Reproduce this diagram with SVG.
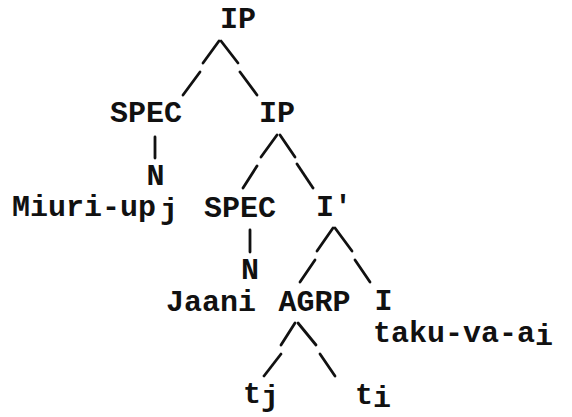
<svg xmlns="http://www.w3.org/2000/svg" width="572" height="417" viewBox="0 0 572 417">
<style>
text{font-family:"Liberation Mono","Courier New",monospace;font-size:30px;font-weight:bold;fill:#111}
.m{text-anchor:middle}
line{stroke:#111;stroke-width:2.8;stroke-linecap:round}
</style>
<rect width="572" height="417" fill="#fff"/>
<g id="connectors">
<line x1="219" y1="41" x2="203" y2="63"/><line x1="200" y1="72" x2="183" y2="95"/>
<line x1="221" y1="41" x2="238" y2="63"/><line x1="240" y1="72" x2="257" y2="95"/>
<line x1="155" y1="137" x2="155" y2="158"/>
<line x1="277" y1="135" x2="261" y2="157"/><line x1="257" y1="166" x2="243" y2="188"/>
<line x1="280" y1="135" x2="295" y2="157"/><line x1="297" y1="164" x2="313" y2="188"/>
<line x1="250" y1="230" x2="250" y2="252"/>
<line x1="333" y1="228" x2="317" y2="251"/><line x1="315" y1="260" x2="300" y2="282"/>
<line x1="335" y1="228" x2="352" y2="251"/><line x1="355" y1="260" x2="370" y2="282"/>
<line x1="295" y1="323" x2="281" y2="345"/><line x1="281" y1="354" x2="264" y2="376"/>
<line x1="298" y1="323" x2="316" y2="345"/><line x1="320" y1="354" x2="335" y2="376"/>
</g>
<g id="n-ip"><text class="m" x="238" y="28">IP</text></g>
<g id="n-spec1"><text class="m" x="146" y="122">SPEC</text></g>
<g id="n-ip2"><text class="m" x="277" y="122">IP</text></g>
<g id="n-n1"><text class="m" x="155.5" y="185">N</text></g>
<g id="n-miuri"><text x="12" y="216">Miuri-up<tspan dx="4" dy="3">j</tspan></text></g>
<g id="n-spec2"><text class="m" x="240" y="217">SPEC</text></g>
<g id="n-ibar"><text x="316" y="216">I'</text></g>
<g id="n-n2"><text class="m" x="250" y="279">N</text></g>
<g id="n-jaani"><text x="166" y="311">Jaani</text></g>
<g id="n-agrp"><text class="m" x="314.5" y="311">AGRP</text></g>
<g id="n-i"><text class="m" x="383.5" y="310">I</text></g>
<g id="n-taku"><text x="373" y="342">taku-va-a<tspan dy="3">i</tspan></text></g>
<g id="n-tj"><text x="243" y="403">t<tspan dy="3">j</tspan></text></g>
<g id="n-ti"><text x="355" y="404">t<tspan dy="3">i</tspan></text></g>
</svg>
